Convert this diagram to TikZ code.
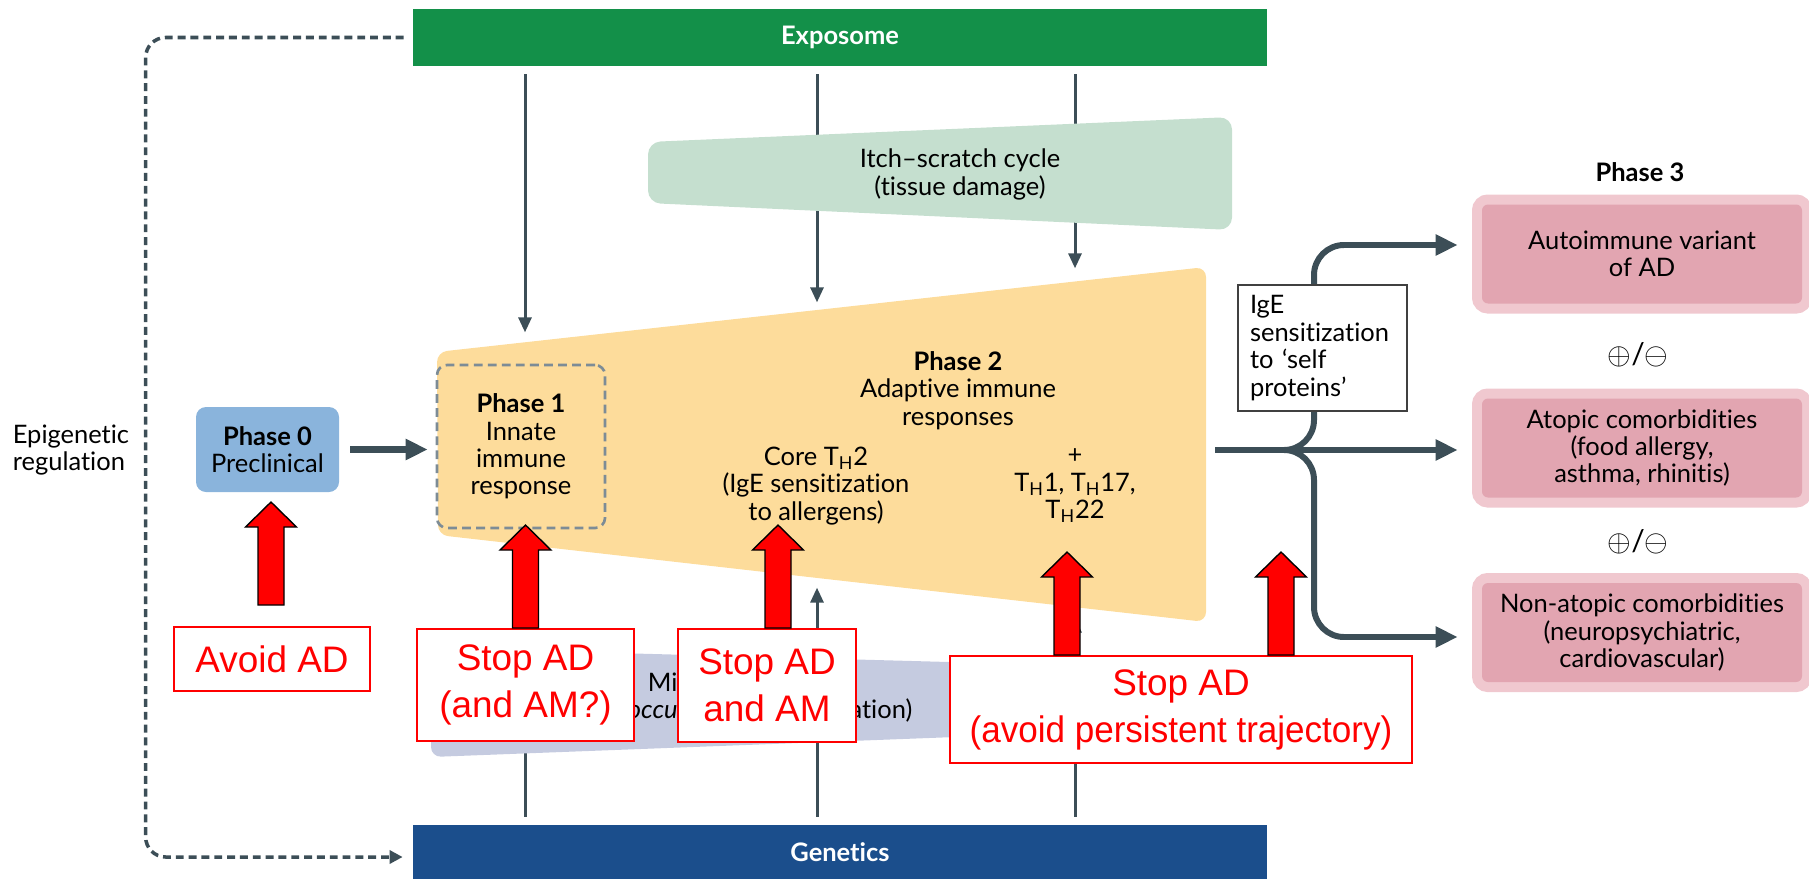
\documentclass[tikz,border=0pt]{standalone}
\usepackage{fontspec}
\setmainfont{Lato}[Ligatures={TeX,NoCommon}]
\newfontfamily\redsans{Liberation Sans}
\usetikzlibrary{arrows.meta,positioning,calc}

\definecolor{expogreen}{RGB}{19,144,73}
\definecolor{genblue}{RGB}{27,78,140}
\definecolor{phaseyellow}{RGB}{253,220,155}
\definecolor{itchgreen}{RGB}{197,223,207}
\definecolor{microblue}{RGB}{197,203,224}
\definecolor{preblue}{RGB}{138,180,220}
\definecolor{pinkout}{RGB}{240,200,207}
\definecolor{pinkin}{RGB}{226,165,177}
\definecolor{slate}{RGB}{60,78,87}
\definecolor{dashgray}{RGB}{125,140,150}

\newcommand{\bodyfont}{\fontsize{14.5}{15.6}\selectfont}
\newcommand{\redfont}{\redsans\fontsize{21}{26.7}\selectfont}
\newcommand{\Th}{T\textsubscript{H}}

\begin{document}
\begin{tikzpicture}[
  >=Stealth,
  every node/.style={font=\bodyfont},
  bar/.style={minimum width=17.08cm, text=white, font=\bodyfont\bfseries},
  thinarr/.style={-{Triangle[length=0.3cm,width=0.26cm]}, line width=1.7pt, draw=slate},
  thickarr/.style={-{Triangle[length=0.44cm,width=0.4cm]}, line width=3.4pt, draw=slate},
  epi/.style={draw=slate, line width=2pt, dash pattern=on 4.5pt off 2.8pt, rounded corners=0.4cm, -{Triangle[length=0.26cm,width=0.26cm]}},
  stopbox/.style={draw=red, fill=white, line width=1.1pt, text=red, font=\redfont, align=center, inner sep=0pt},
  p3box/.style={fill=pinkin, rounded corners=0.12cm, minimum width=6.4cm, minimum height=1.98cm, align=center, inner sep=0pt, preaction={draw=pinkout, line width=0.4cm}},
  blockup/.pic={\draw[fill=red, line width=0.8pt, line join=miter] (-0.26,0) -- (-0.26,1.56) -- (-0.51,1.56) -- (0,2.06) -- (0.51,1.56) -- (0.26,1.56) -- (0.26,0) -- cycle;}
]
\useasboundingbox (0,0) rectangle (36.18,-17.58);

% exposome and genetics
\node[bar, fill=expogreen, minimum height=1.14cm] (expo) at (16.80,-0.75) {Exposome};
\node[bar, fill=genblue, minimum height=1.08cm] (gen) at (16.80,-17.04) {Genetics};
\draw[epi, shorten <=0.18cm, shorten >=0.2cm] (expo.west) -- ++(-5.34,0) |- ([yshift=-0.1cm]gen.west);
\node[align=left, anchor=west, inner sep=0pt] (epitext) at (0.25,-9.0) {Epigenetic\\regulation};

\foreach \dx/\len in {-6.30/5.32, -0.46/4.72, 4.70/4.04}
  \draw[thinarr, shorten <=0.16cm] ([xshift=\dx cm]expo.south) -- ++(0,-\len);
\foreach \dx/\len in {-6.30/5.5, -0.46/4.74, 4.70/4.14}
  \draw[thinarr, shorten <=0.16cm] ([xshift=\dx cm]gen.north) -- ++(0,\len);

% itch-scratch cycle
\fill[itchgreen, rounded corners=0.25cm] (12.96,-2.84) -- (24.64,-2.34) -- (24.64,-4.60) -- (12.96,-4.06) -- cycle;
\node[align=center] (itch) at (19.2,-3.49) {Itch--scratch cycle\\(tissue damage)};

% phases 1 and 2
\fill[phaseyellow, rounded corners=0.2cm] (8.74,-7.04) -- (24.12,-5.34) -- (24.12,-12.44) -- (8.76,-10.70) -- cycle;
\node[draw=dashgray, line width=1.5pt, dash pattern=on 5pt off 3pt, rounded corners=0.2cm, minimum width=3.36cm, minimum height=3.26cm, align=center] (p1) at (10.42,-8.93) {\textbf{Phase 1}\\Innate\\immune\\response};
\node[align=center] (p2) at (19.16,-7.81) {\textbf{Phase 2}\\Adaptive immune\\responses};
\node[align=center] (th2) at (16.32,-9.72) {Core \Th2\\(IgE sensitization\\to allergens)};
\node[align=center] (thx) at (21.5,-9.72) {+\\\Th1, \Th17,\\\Th22};

% microbiome
\fill[microblue, rounded corners=0.2cm] (8.62,-12.96) -- (21.2,-13.3) -- (21.2,-14.66) -- (8.62,-15.14) -- cycle;
\node[align=center] (micro) at (14.3,-13.96) {Microbiome\\(\textit{Staphylococcus aureus} colonization)};

% phase 0
\node[fill=preblue, rounded corners=0.2cm, minimum width=2.86cm, minimum height=1.7cm, align=center] (p0) at (5.35,-8.99) {\textbf{Phase 0}\\Preclinical};
\draw[thickarr, line width=4pt, shorten <=0.22cm, shorten >=0.16cm] (p0.east) -- (p0.east -| p1.west);

% phase 3
\coordinate (fan) at (24.30,-9.0);
\node[font=\bodyfont\bfseries] (p3) at (32.8,-3.44) {Phase 3};
\node[p3box] (auto) at (32.84,-5.08) {Autoimmune variant\\of AD};
\node[p3box] (atop) at (32.84,-8.96) {Atopic comorbidities\\(food allergy,\\asthma, rhinitis)};
\node[p3box] (nonat) at (32.84,-12.65) {Non-atopic comorbidities\\(neuropsychiatric,\\cardiovascular)};
\node[font=\fontsize{17}{18}\selectfont] (pm1) at (32.76,-7.10) {$\oplus$/$\ominus$};
\node[font=\fontsize{17}{18}\selectfont] (pm2) at (32.76,-10.84) {$\oplus$/$\ominus$};

\draw[thickarr, shorten >=0.48cm] (fan) -- (fan -| atop.west);
\draw[thickarr, rounded corners=0.6cm, shorten >=0.48cm] (fan) -- ++(1.98,0) |- ([yshift=0.18cm]auto.west);
\draw[thickarr, rounded corners=0.6cm, shorten >=0.48cm] (fan) -- ++(1.98,0) |- ([yshift=-0.09cm]nonat.west);
\node[draw=black!75, line width=0.8pt, fill=white, align=left, text width=2.9cm, inner xsep=0.24cm, inner ysep=0.12cm, minimum height=2.52cm] (ige) at (26.45,-6.96) {IgE\\sensitization\\to `self\\proteins'};

% targets
\node[stopbox, minimum width=3.92cm, minimum height=1.28cm] (avoid) at (5.44,-13.18) {Avoid AD};
\node[stopbox, minimum width=4.34cm, minimum height=2.24cm] (stop1) at (10.51,-13.70) {Stop AD\\(and AM?)};
\node[stopbox, minimum width=3.56cm, minimum height=2.26cm] (stop2) at (15.34,-13.71) {Stop AD\\and AM};
\node[stopbox, minimum width=9.24cm, minimum height=2.14cm] (stop3) at (23.62,-14.19) {Stop AD\\\scalebox{0.95}[1]{(avoid persistent trajectory)}};
\pic at ([xshift=-0.02cm,yshift=0.42cm]avoid.north) {blockup};
\pic at (stop1.north) {blockup};
\pic at ([xshift=0.22cm]stop2.north) {blockup};
\pic at ([xshift=-2.28cm]stop3.north) {blockup};
\pic at ([xshift=2.0cm]stop3.north) {blockup};
\end{tikzpicture}
\end{document}
